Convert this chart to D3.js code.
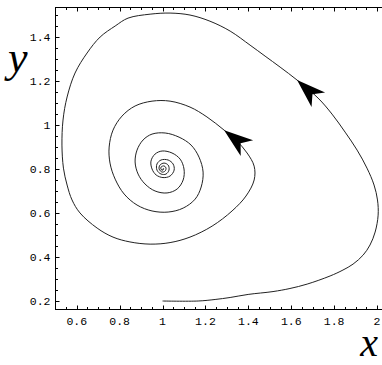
<!DOCTYPE html>
<html><head><meta charset="utf-8">
<script src="https://cdn.jsdelivr.net/npm/d3@7"></script>
<style>body{margin:0;background:#fff;overflow:hidden}</style>
</head><body>
<script>
// ---- data ----
const xDomain = [0.5, 2.03];
const yDomain = [0.165, 1.54];
const xTickValues = [0.6, 0.8, 1, 1.2, 1.4, 1.6, 1.8, 2];
const xTickLabels = ["0.6", "0.8", "1", "1.2", "1.4", "1.6", "1.8", "2"];
const yTickValues = [0.2, 0.4, 0.6, 0.8, 1, 1.2, 1.4];
const yTickLabels = ["0.2", "0.4", "0.6", "0.8", "1", "1.2", "1.4"];

// trajectory (x, y)
const trajX = [1.000,1.166,1.245,1.315,1.399,1.515,1.594,1.674,1.781,1.841,1.888,1.935,1.967,1.991,2.005,2.002,1.986,1.953,1.907,1.851,1.790,1.725,1.627,1.548,1.478,1.408,1.315,1.221,1.128,1.035,0.942,0.839,0.779,0.709,0.648,0.592,0.555,0.536,0.531,0.538,0.555,0.578,0.615,0.695,0.769,0.848,0.942,1.035,1.128,1.231,1.324,1.389,1.427,1.427,1.394,1.347,1.287,1.207,1.128,1.035,0.951,0.872,0.811,0.769,0.751,0.755,0.779,0.821,0.881,0.951,1.026,1.096,1.152,1.180,1.189,1.170,1.133,1.077,1.012,0.951,0.909,0.881,0.872,0.886,0.918,0.965,1.021,1.068,1.096,1.100,1.082,1.044,0.998,0.965,0.946,0.951,0.970,1.002,1.035,1.054,1.049,1.026,0.993,0.974,0.974,0.993,1.016,1.030,1.026,1.007,0.988,0.984,0.998,1.012,1.016,1.007,0.993,0.993,1.002,1.005,1.000];
const trajY = [0.200,0.200,0.207,0.216,0.230,0.243,0.257,0.277,0.314,0.341,0.368,0.409,0.455,0.514,0.591,0.660,0.728,0.805,0.887,0.969,1.051,1.124,1.206,1.265,1.315,1.365,1.429,1.474,1.502,1.511,1.506,1.488,1.452,1.402,1.329,1.238,1.129,1.024,0.910,0.805,0.728,0.660,0.601,0.532,0.491,0.469,0.459,0.466,0.491,0.541,0.610,0.678,0.751,0.814,0.874,0.928,0.978,1.038,1.083,1.110,1.110,1.088,1.042,0.978,0.901,0.828,0.755,0.687,0.637,0.610,0.605,0.623,0.664,0.719,0.787,0.855,0.910,0.946,0.965,0.960,0.933,0.887,0.833,0.778,0.733,0.701,0.692,0.710,0.751,0.801,0.846,0.874,0.883,0.869,0.837,0.801,0.774,0.762,0.769,0.796,0.824,0.842,0.842,0.824,0.796,0.778,0.778,0.796,0.819,0.828,0.819,0.801,0.787,0.792,0.806,0.815,0.810,0.799,0.796,0.803,0.800];

// arrowheads: tip point and a point behind it on the curve
const arrowTipX = [1.627, 1.287];
const arrowTipY = [1.206, 0.978];
const arrowTailX = [1.700, 1.365];
const arrowTailY = [1.140, 0.918];

// ---- drawing ----
const W = 382, H = 365;
const svg = d3.select("body").append("svg").attr("width", W).attr("height", H);

const x = d3.scaleLinear().domain(xDomain).range([55.3, 383.5]);
const y = d3.scaleLinear().domain(yDomain).range([308.7, 6.7]);

const pLeft = x(xDomain[0]), pRight = x(xDomain[1]), pTop = y(yDomain[1]), pBottom = y(yDomain[0]);

// frame
svg.append("rect")
  .attr("x", Math.round(pLeft) + 0.5).attr("y", Math.round(pTop) + 0.5)
  .attr("width", Math.round(pRight) - Math.round(pLeft)).attr("height", Math.round(pBottom) - Math.round(pTop))
  .attr("fill", "none").attr("stroke", "#000").attr("stroke-width", 1);

const xMinor = d3.range(0.55, 2.001, 0.05).map(v => +v.toFixed(2));
const yMinor = d3.range(0.2, 1.54, 0.05).map(v => +v.toFixed(2));
const isMajor = (v, arr) => arr.some(a => Math.abs(a - v) < 1e-6);

const tg = svg.append("g").attr("stroke", "#000").attr("stroke-width", 1);
const bY = Math.round(pBottom) + 0.5, tY = Math.round(pTop) + 0.5, lX = Math.round(pLeft) + 0.5;
xMinor.forEach(v => {
  const len = isMajor(v, xTickValues) ? 4 : 2.5;
  const px = Math.round(x(v)) + 0.5;
  tg.append("line").attr("x1", px).attr("x2", px).attr("y1", bY).attr("y2", bY - len);
  tg.append("line").attr("x1", px).attr("x2", px).attr("y1", tY).attr("y2", tY + len);
});
yMinor.forEach(v => {
  const len = isMajor(v, yTickValues) ? 4 : 2.5;
  const py = Math.round(y(v)) + 0.5;
  tg.append("line").attr("x1", lX).attr("x2", lX + len).attr("y1", py).attr("y2", py);
});

// tick labels
const lab = svg.append("g").attr("font-family", "'Liberation Mono', 'DejaVu Sans Mono', monospace")
  .attr("font-size", 11.5).attr("fill", "#000");
xTickValues.forEach((v, i) => {
  lab.append("text").attr("x", x(v)).attr("y", 324.5).attr("text-anchor", "middle").text(xTickLabels[i]);
});
yTickValues.forEach((v, i) => {
  lab.append("text").attr("x", 50.5).attr("y", y(v)).attr("dy", "0.35em").attr("text-anchor", "end").text(yTickLabels[i]);
});

// axis titles
svg.append("text").attr("x", 8).attr("y", 72).attr("font-family", "'Liberation Serif', 'DejaVu Serif', serif")
  .attr("font-style", "italic").attr("font-size", 44).attr("fill", "#000").text("y");
svg.append("text").attr("x", 378).attr("y", 356).attr("text-anchor", "end").attr("font-family", "'Liberation Serif', 'DejaVu Serif', serif")
  .attr("font-style", "italic").attr("font-size", 40).attr("fill", "#000").text("x");

// trajectory
const pts = trajX.map((v, i) => [v, trajY[i]]);
const line = d3.line().x(d => x(d[0])).y(d => y(d[1])).curve(d3.curveCatmullRom.alpha(0.5));
svg.append("path").attr("d", line(pts)).attr("fill", "none").attr("stroke", "#222").attr("stroke-width", 1);

// arrowheads
const L = 29, Wd = 10, N = 21;
arrowTipX.forEach((v, i) => {
  const tx = x(v), ty = y(arrowTipY[i]);
  const bx = x(arrowTailX[i]), by = y(arrowTailY[i]);
  const ang = Math.atan2(ty - by, tx - bx) * 180 / Math.PI;
  svg.append("path")
    .attr("d", `M0,0 L${-L},${-Wd} L${-N},0 L${-L},${Wd} Z`)
    .attr("transform", `translate(${tx},${ty}) rotate(${ang})`)
    .attr("fill", "#000");
});
</script>
</body></html>
